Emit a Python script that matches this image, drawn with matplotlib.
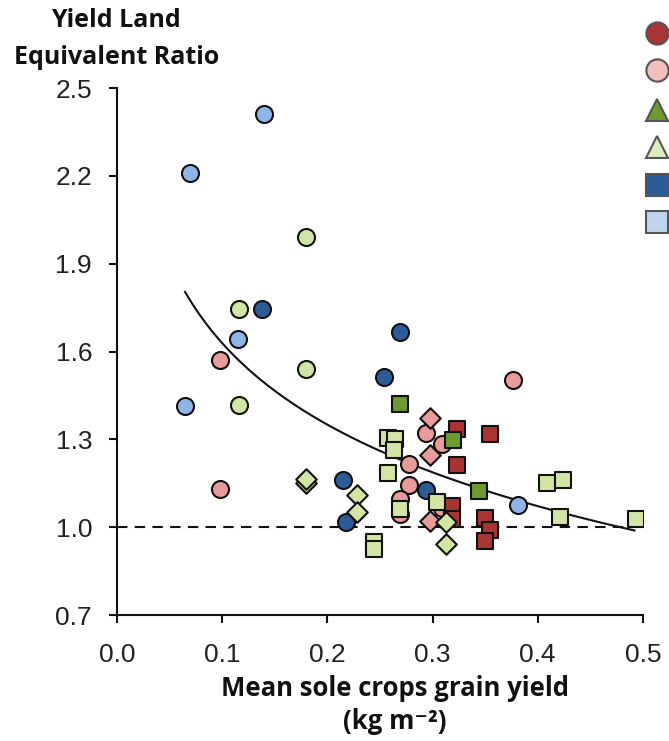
import numpy as np
import matplotlib.pyplot as plt
from matplotlib.lines import Line2D

plt.rcParams['font.family'] = ['Liberation Sans', 'DejaVu Sans']

# mean sole crop yield (kg m-2) vs yield LER, grouped by colour / marker
pink_circ_x = [0.098, 0.098, 0.376, 0.294, 0.309, 0.278, 0.278, 0.269, 0.269, 0.309]
pink_circ_y = [1.571, 1.130, 1.503, 1.322, 1.284, 1.216, 1.144, 1.096, 1.044, 1.065]
lgreen_circ_x = [0.116, 0.180, 0.180, 0.116]
lgreen_circ_y = [1.746, 1.990, 1.540, 1.417]
dblue_circ_x = [0.138, 0.269, 0.254, 0.215, 0.218, 0.294]
dblue_circ_y = [1.745, 1.667, 1.513, 1.161, 1.017, 1.127]
lblue_circ_x = [0.069, 0.140, 0.115, 0.065, 0.381]
lblue_circ_y = [2.210, 2.413, 1.643, 1.414, 1.075]

dred_sq_x = [0.323, 0.355, 0.323, 0.318, 0.318, 0.350, 0.355, 0.350]
dred_sq_y = [1.335, 1.318, 1.212, 1.072, 1.027, 1.031, 0.990, 0.952]
dgreen_sq_x = [0.269, 0.319, 0.344]
dgreen_sq_y = [1.421, 1.298, 1.123]
lgreen_sq_x = [0.258, 0.264, 0.263, 0.258, 0.269, 0.304, 0.244, 0.244, 0.409, 0.424, 0.421, 0.493]
lgreen_sq_y = [1.305, 1.301, 1.263, 1.185, 1.062, 1.086, 0.949, 0.925, 1.151, 1.161, 1.034, 1.027]

pink_dia_x = [0.298, 0.298, 0.298]
pink_dia_y = [1.373, 1.246, 1.020]
lgreen_dia_x = [0.180, 0.180, 0.228, 0.228, 0.313, 0.313]
lgreen_dia_y = [1.150, 1.164, 1.109, 1.051, 1.017, 0.942]

# logarithmic trend y = a + b*ln(x)
trend_a, trend_b = 0.704, -0.4016
trend_range = (0.0646, 0.492)

DRED = '#a83434'
PINK = '#e99a9a'
DGREEN = '#6e9a30'
LGREEN = '#d3e5a5'
DBLUE = '#2d5b98'
LBLUE = '#8fb5e8'

fig = plt.figure(figsize=(6.69, 7.41), dpi=100)
ax = fig.add_axes([0.175, 0.170, 0.786, 0.711])

xs = np.linspace(*trend_range, 200)
ax.plot(xs, trend_a + trend_b * np.log(xs), color='#111111', lw=1.5, zorder=2)
ax.plot([0, 0.5], [1.0, 1.0], color='#111111', lw=1.5, dashes=(5, 3.5), zorder=1)

kw = dict(edgecolors='#111111', linewidths=1.5, zorder=3)
ax.scatter(lgreen_circ_x, lgreen_circ_y, s=150, marker='o', c=LGREEN, **kw)
ax.scatter(lblue_circ_x, lblue_circ_y, s=150, marker='o', c=LBLUE, **kw)
ax.scatter(dblue_circ_x, dblue_circ_y, s=150, marker='o', c=DBLUE, **kw)
ax.scatter(pink_circ_x, pink_circ_y, s=150, marker='o', c=PINK, **kw)
ax.scatter(dred_sq_x, dred_sq_y, s=140, marker='s', c=DRED, **kw)
ax.scatter(pink_dia_x, pink_dia_y, s=110, marker='D', c=PINK, **kw)
ax.scatter(lgreen_sq_x, lgreen_sq_y, s=140, marker='s', c=LGREEN, **kw)
ax.scatter(dgreen_sq_x, dgreen_sq_y, s=140, marker='s', c=DGREEN, **kw)
ax.scatter(lgreen_dia_x, lgreen_dia_y, s=110, marker='D', c=LGREEN, **kw)

ax.set_xlim(0, 0.5)
ax.set_ylim(0.7, 2.5)
ax.set_xticks(np.arange(0, 0.51, 0.1))
ax.set_yticks(np.arange(0.7, 2.51, 0.3))
ax.xaxis.set_major_formatter(plt.FormatStrFormatter('%.1f'))
ax.yaxis.set_major_formatter(plt.FormatStrFormatter('%.1f'))
ax.tick_params(labelsize=19, width=1.5, length=6, color='#111111', labelcolor='#222222')
ax.tick_params(axis='x', pad=14)
ax.tick_params(axis='y', pad=12)
for s in ['top', 'right']:
    ax.spines[s].set_visible(False)
for s in ['left', 'bottom']:
    ax.spines[s].set_linewidth(1.5)
    ax.spines[s].set_color('#111111')

bold = dict(family=['Open Sans', 'DejaVu Sans'], fontweight='bold', color='#111111')
fig.text(0.174, 0.972, 'Yield Land', ha='center', va='center', fontsize=18, **bold)
fig.text(0.174, 0.922, 'Equivalent Ratio', ha='center', va='center', fontsize=18, **bold)
fig.text(0.590, 0.071, 'Mean sole crops grain yield', ha='center', va='center', fontsize=18.5, **bold)
fig.text(0.590, 0.026, '(kg m\u207b\u00b2)', ha='center', va='center', fontsize=18.5, **bold)

# legend markers at the right edge
leg = [('o', DRED), ('o', '#f3c0c0'), ('^', DGREEN), ('^', '#dcecc0'), ('s', DBLUE), ('s', '#c0d4f0')]
leg_y = [0.955, 0.906, 0.851, 0.801, 0.751, 0.700]
for (m, c), yy in zip(leg, leg_y):
    fig.add_artist(Line2D([0.982], [yy], marker=m, markersize=16, markerfacecolor=c,
                          markeredgecolor='#555555', markeredgewidth=1.5, linestyle='none',
                          transform=fig.transFigure))

fig.savefig('out.png', dpi=100)
